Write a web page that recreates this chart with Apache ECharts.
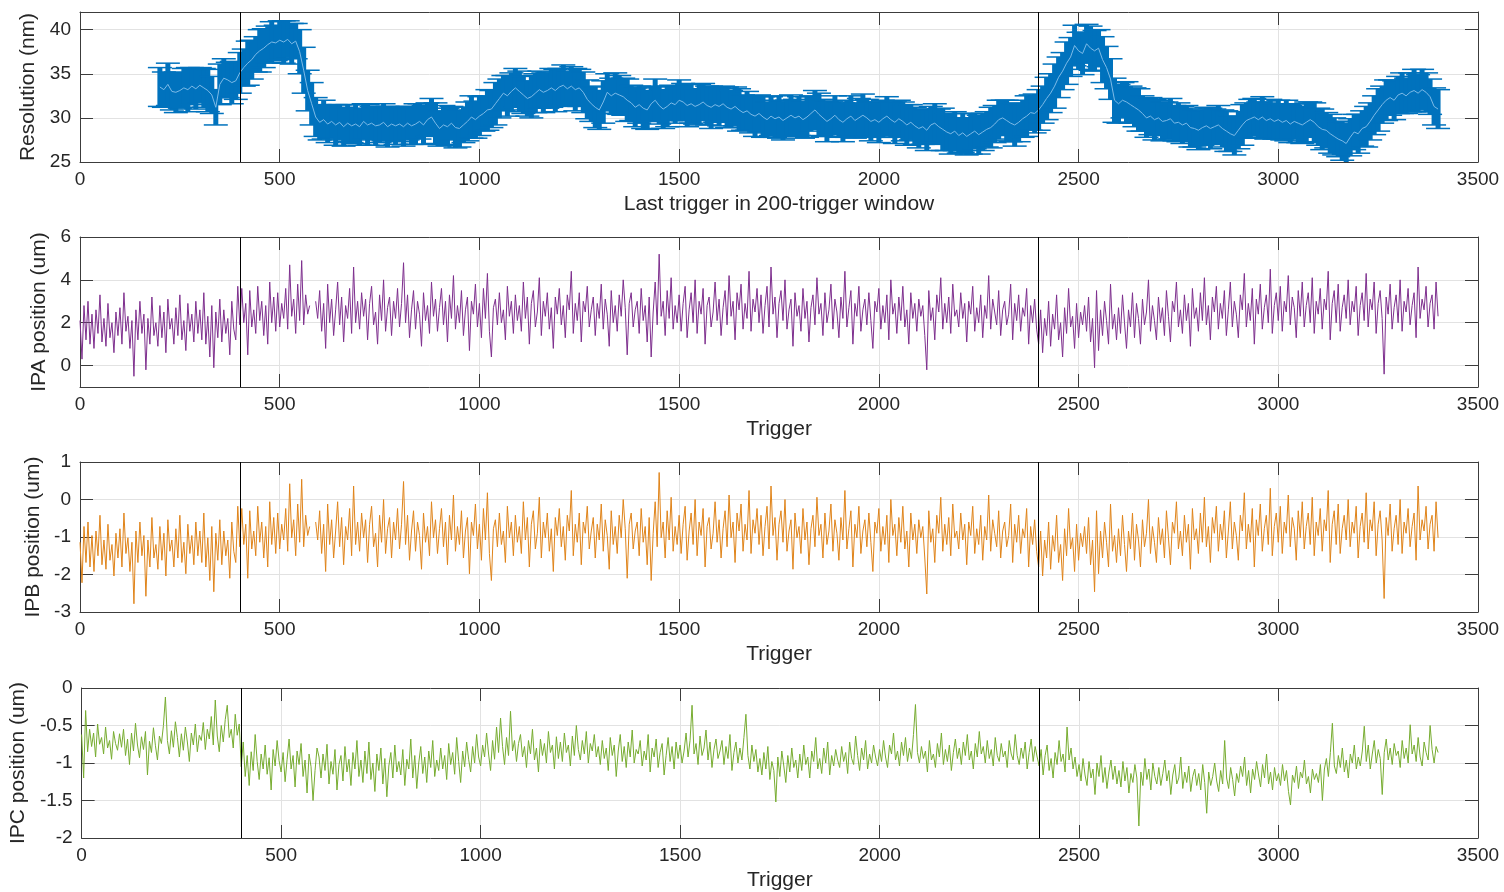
<!DOCTYPE html>
<html>
<head>
<meta charset="utf-8">
<script src="https://cdn.jsdelivr.net/npm/echarts@6/dist/echarts.min.js"></script>
<style>
  html, body { margin: 0; padding: 0; background: #ffffff; }
  #chart { width: 1504px; height: 892px; }
</style>
</head>
<body>
<div id="chart"></div>
<script>
// ---- Resolution per 200-trigger window (one value every 10 triggers, from trigger 200) ----
const resFirstTrigger = 200;
const resTriggerStep = 10;
const resolutionNm = [
  33.5,33.2,33.8,33.0,32.9,33.1,33.4,33.2,33.6,33.3,
  33.7,33.4,33.1,32.6,31.2,33.8,34.5,34.3,34.0,34.2,
  35.1,35.7,36.2,36.6,37.2,37.6,37.9,38.3,38.6,38.5,
  38.8,38.6,38.9,38.4,38.7,37.5,35.4,33.1,31.6,30.1,
  29.5,29.8,29.3,29.6,29.2,29.5,29.0,29.4,29.1,29.3,
  29.0,29.6,29.2,29.4,29.1,29.2,29.5,29.0,29.3,29.1,
  29.3,29.0,29.4,29.1,29.3,29.6,29.2,29.8,30.1,29.4,
  28.8,29.2,29.0,29.4,28.9,28.8,29.2,29.6,30.1,29.8,
  30.2,30.5,30.9,31.0,31.6,32.2,32.8,32.5,33.0,33.4,
  33.0,32.6,32.2,32.4,32.8,33.2,32.9,33.1,33.4,33.1,
  33.5,33.7,33.3,33.6,33.2,33.4,32.9,32.1,31.6,31.2,
  30.9,31.8,32.9,32.5,32.8,32.6,32.4,32.0,31.7,31.2,
  31.5,31.1,30.9,31.6,32.0,31.4,31.0,31.3,31.7,31.5,
  32.0,31.8,31.4,31.6,31.3,31.5,31.8,31.4,31.2,31.5,
  31.3,31.6,31.2,31.0,31.3,30.9,30.6,30.8,30.4,30.2,
  30.5,30.1,29.8,30.2,29.9,30.1,29.7,30.0,30.3,30.0,
  30.2,29.8,30.1,30.5,30.9,30.4,30.0,29.6,29.9,30.3,
  29.8,29.5,29.9,30.2,29.7,30.0,30.3,30.0,29.6,29.8,
  29.5,29.9,30.2,29.8,29.5,29.9,29.6,29.2,29.5,29.1,
  28.8,29.0,28.6,29.2,29.4,29.0,28.7,28.4,28.2,28.5,
  28.0,28.3,27.9,28.2,28.5,28.1,28.4,28.7,28.9,29.3,
  29.8,30.0,29.7,29.4,29.2,29.5,29.9,30.2,30.6,30.5,
  30.9,31.5,32.2,32.8,33.6,34.6,35.3,36.2,36.9,38.2,
  37.6,37.3,38.4,37.9,37.6,37.9,36.6,35.7,34.4,32.0,
  31.6,32.0,31.8,31.5,31.2,30.9,30.5,30.0,30.2,29.8,
  30.0,29.6,29.7,29.9,29.4,29.5,29.2,29.4,28.9,28.8,
  28.6,28.9,29.1,28.8,29.0,29.2,28.8,28.5,28.2,28.0,
  28.6,29.2,29.7,29.9,30.1,29.8,30.1,29.7,29.9,29.6,
  29.8,29.5,29.7,29.3,29.6,29.4,29.2,29.5,29.8,29.5,
  29.0,28.7,28.6,28.2,27.9,27.6,27.4,27.1,27.8,28.4,
  28.2,28.8,29.0,29.6,30.3,30.9,31.5,32.0,32.3,32.0,
  32.6,32.8,32.5,32.9,33.1,32.8,33.2,32.9,32.4,31.3,
  31.0
];
// error bar half-height for each resolution value (nm)
const resolutionErrNm = [
  2.2,2.0,2.4,2.1,2.3,2.0,2.2,2.5,2.1,2.3,
  2.0,2.2,2.4,2.1,2.0,2.3,2.2,2.0,2.4,2.1,
  2.3,2.1,2.5,2.2,2.0,2.4,2.2,2.1,2.3,2.0,
  2.2,2.4,2.1,2.3,2.0,2.5,2.6,2.3,2.4,2.2,
  2.0,2.2,2.1,1.9,2.3,2.0,2.2,2.1,1.9,2.2,
  2.1,2.0,2.3,1.9,2.2,2.0,2.1,2.3,1.9,2.1,
  2.0,2.2,1.9,2.1,2.3,2.0,2.2,1.9,2.1,2.3,
  2.0,2.2,2.1,1.9,2.3,2.1,2.0,2.2,2.4,2.1,
  2.2,2.0,2.3,2.1,2.4,2.2,2.0,2.3,2.1,2.2,
  2.3,2.1,2.0,2.4,2.2,2.1,2.3,2.0,2.2,2.4,
  2.1,2.3,2.0,2.2,2.4,2.1,2.3,2.2,2.0,2.3,
  2.2,2.4,2.1,2.0,2.3,2.2,2.1,2.4,2.0,2.2,
  2.1,2.3,2.2,2.0,2.4,2.1,2.2,2.3,2.0,2.1,
  2.3,2.1,2.4,2.2,2.0,2.3,2.1,2.2,2.4,2.0,
  2.2,2.0,2.3,2.1,2.2,2.4,2.0,2.2,2.1,2.3,
  2.1,2.3,2.0,2.2,2.1,2.4,2.2,2.0,2.3,2.1,
  2.2,2.1,2.3,2.0,2.2,2.4,2.1,2.3,2.0,2.2,
  2.0,2.2,2.1,2.3,2.0,2.2,2.4,2.1,2.2,2.0,
  2.3,2.1,2.2,2.0,2.4,2.1,2.2,2.3,2.0,2.1,
  2.2,2.0,2.3,2.1,2.2,2.0,2.4,2.1,2.3,2.2,
  2.0,2.2,2.1,2.3,2.0,2.2,2.1,2.0,2.3,2.1,
  2.2,2.0,2.3,2.1,2.4,2.2,2.1,2.3,2.0,2.2,
  2.3,2.1,2.4,2.2,2.5,2.3,2.1,2.4,2.2,2.3,
  2.1,2.4,2.2,2.5,2.3,2.1,2.6,2.4,2.3,2.5,
  2.2,2.0,2.3,2.1,2.2,2.4,2.0,2.2,2.1,2.3,
  2.0,2.2,2.1,2.3,2.0,2.2,2.1,2.0,2.2,2.1,
  2.2,2.0,2.1,2.3,2.0,2.2,2.1,2.3,2.0,2.2,
  2.1,2.3,2.0,2.2,2.1,2.0,2.3,2.1,2.2,2.0,
  2.2,2.0,2.3,2.1,2.0,2.2,2.1,2.3,2.0,2.2,
  2.1,2.3,2.0,2.2,2.1,2.0,2.2,2.3,2.1,2.0,
  2.2,2.0,2.3,2.1,2.2,2.4,2.1,2.3,2.0,2.2,
  2.1,2.3,2.0,2.2,2.4,2.1,2.3,2.2,2.0,2.1,
  2.2
];

// ---- IP positions (um), one value every 5 triggers from trigger 0; null = missing ----
const ipTriggerStep = 5;
const ipaPosition = [
  2.1,0.3,2.8,1.2,3.0,1.0,2.4,0.8,2.6,1.5,3.3,1.1,2.2,0.9,2.9,1.3,2.0,0.6,2.5,1.4,
  2.7,1.0,3.4,1.6,2.3,0.8,2.1,-0.5,2.6,1.2,3.0,1.5,2.4,-0.2,2.2,1.0,3.2,1.4,2.0,0.9,
  2.8,1.3,2.5,0.6,3.1,1.7,2.2,1.0,2.7,1.4,3.3,1.2,2.1,0.7,2.9,1.6,2.4,1.1,3.0,1.5,
  2.6,1.2,3.4,1.0,2.3,0.4,2.8,-0.1,2.5,1.3,3.1,1.1,2.6,1.5,2.2,0.5,3.0,1.7,1.2,3.7,
  1.9,3.6,2.0,2.9,0.5,3.5,1.8,2.6,1.5,3.7,2.1,3.0,1.4,2.8,1.0,3.9,2.0,3.2,1.6,3.4,
  1.8,2.9,2.2,3.6,1.7,4.7,2.3,3.1,1.5,3.8,2.1,4.9,1.9,3.3,2.4,2.8,null,null,3.0,2.2,
  3.5,1.6,2.9,0.8,3.8,2.0,3.1,1.4,2.6,3.9,1.9,3.2,1.1,2.8,2.2,3.6,1.5,4.6,2.0,3.0,
  1.7,3.4,2.3,3.1,1.2,2.9,3.7,1.9,2.5,1.0,3.3,2.1,4.0,1.6,2.7,3.2,1.4,3.0,2.2,3.6,
  1.8,2.9,4.8,2.0,3.3,1.3,2.6,3.5,1.7,3.0,2.4,0.9,3.4,2.1,2.8,1.5,3.9,2.3,3.1,1.6,
  2.7,3.6,1.9,3.0,1.1,3.3,2.2,4.2,1.7,2.8,2.0,3.5,1.4,2.6,3.2,0.7,3.0,2.4,3.8,1.8,
  2.9,1.3,3.6,2.2,4.3,1.6,0.4,2.7,3.1,1.9,3.4,2.0,2.6,1.2,3.7,2.3,3.0,1.5,3.3,2.1,
  2.8,1.6,3.9,2.2,3.2,1.0,2.9,3.5,1.8,2.5,4.1,1.4,3.0,2.3,3.4,1.7,2.7,0.8,3.2,2.4,
  3.6,1.9,2.8,1.3,3.3,2.6,4.4,1.5,2.9,2.1,3.4,1.1,3.0,2.5,3.7,1.8,2.6,3.2,1.4,2.9,
  2.2,3.8,1.7,3.1,2.4,0.9,3.5,2.0,2.8,1.6,3.3,2.3,4.0,2.7,0.5,2.9,3.4,1.8,2.6,3.0,
  1.5,3.6,2.1,2.8,1.1,3.2,0.4,2.5,3.9,1.9,5.2,2.3,3.0,1.4,3.5,2.2,4.1,1.7,2.8,2.0,
  3.3,1.6,2.9,3.7,1.3,2.6,3.4,2.0,4.0,1.5,3.0,2.4,3.6,1.0,2.8,3.2,1.8,2.5,3.9,2.1,
  3.1,1.4,2.7,3.5,1.9,4.2,2.3,3.0,1.2,3.4,2.6,3.8,1.7,2.9,2.2,4.4,1.6,3.1,2.5,3.6,
  2.0,3.3,1.5,2.8,3.7,1.8,4.6,2.4,3.2,1.3,2.9,3.5,2.1,4.0,1.7,2.6,3.1,0.9,3.4,2.3,
  2.8,1.6,3.6,2.2,3.0,1.1,2.7,3.3,1.9,4.1,2.4,2.9,1.4,3.4,2.0,2.6,3.8,1.7,3.1,2.5,
  1.3,3.2,2.2,4.4,1.8,2.7,3.5,1.0,2.9,2.3,3.7,1.6,2.6,3.1,1.9,3.4,2.1,0.8,3.0,2.5,
  3.6,1.7,2.8,2.0,3.3,1.2,4.0,2.4,2.9,1.5,3.2,2.1,3.7,1.8,2.6,1.0,3.4,2.2,2.9,1.6,
  3.1,2.3,2.8,1.4,-0.2,3.5,2.1,2.7,1.2,3.3,2.5,4.1,1.7,2.9,2.0,3.2,1.5,3.8,2.3,2.6,
  1.8,3.4,2.2,2.9,1.1,3.0,2.4,3.7,1.6,2.7,2.0,3.3,1.3,2.8,2.2,4.2,1.7,3.1,2.5,1.9,
  3.5,1.4,2.6,3.0,1.9,2.4,3.8,1.2,2.9,2.1,3.3,1.6,2.7,2.3,3.6,1.0,2.8,2.0,3.1,1.7,
  1.0,2.6,0.6,2.2,1.4,3.0,0.9,2.4,1.7,3.3,1.2,2.0,0.4,2.7,1.5,3.6,1.8,2.3,0.8,2.9,
  1.3,2.5,1.9,2.8,1.6,3.2,1.1,2.2,-0.1,3.5,0.7,2.6,1.4,3.0,2.1,1.0,3.8,1.7,2.4,1.2,
  2.7,1.5,3.3,2.0,0.8,2.6,1.8,3.4,1.3,2.9,2.2,1.0,3.1,1.9,2.5,4.0,1.6,2.8,2.1,1.2,
  3.2,2.0,2.7,1.4,3.5,2.3,1.1,3.0,2.5,3.9,1.8,2.6,1.5,3.3,2.1,2.9,0.9,3.6,2.2,2.7,
  1.6,3.4,2.1,4.1,1.9,2.8,1.2,3.2,2.5,3.7,1.7,2.9,2.2,3.5,1.4,2.6,3.9,1.8,3.0,2.4,
  1.3,3.3,2.6,4.3,1.8,2.9,2.1,3.6,1.0,3.1,2.4,3.8,1.7,2.7,3.3,2.0,4.5,1.5,2.8,3.4,
  2.1,3.7,1.6,3.0,2.5,4.2,1.9,3.2,2.7,1.3,3.5,2.3,3.9,1.8,2.8,3.4,2.0,4.1,1.5,3.0,
  2.4,3.6,1.7,3.1,2.6,4.4,1.2,2.9,3.5,2.0,3.8,1.6,2.7,3.3,2.2,4.0,1.9,3.0,2.5,3.7,
  1.4,2.8,3.4,2.1,4.3,1.8,3.1,2.6,3.9,1.5,2.9,3.5,2.2,-0.4,3.2,2.4,3.8,1.7,2.7,3.3,
  2.0,4.0,1.6,3.0,2.5,3.6,1.9,2.8,3.4,1.3,4.6,2.2,3.1,2.6,3.7,1.8,2.9,3.3,1.7,3.9,
  2.3
];
const ipbPosition = [
  -1.14,-2.22,-0.72,-1.68,-0.60,-1.80,-0.96,-1.92,-0.84,-1.50,-0.42,-1.74,-1.08,-1.86,-0.66,-1.62,-1.20,-2.04,-0.90,-1.56,
  -0.78,-1.80,-0.36,-1.44,-1.02,-1.92,-1.14,-2.78,-0.84,-1.68,-0.60,-1.50,-0.96,-2.58,-1.08,-1.80,-0.48,-1.56,-1.20,-1.86,
  -0.72,-1.62,-0.90,-2.04,-0.54,-1.38,-1.08,-1.80,-0.78,-1.56,-0.42,-1.68,-1.14,-1.98,-0.66,-1.44,-0.96,-1.74,-0.60,-1.50,
  -0.84,-1.68,-0.36,-1.80,-1.02,-2.16,-0.72,-2.46,-0.90,-1.62,-0.54,-1.74,-0.84,-1.50,-1.08,-2.10,-0.60,-1.38,-1.68,-0.18,
  -1.26,-0.24,-1.20,-0.66,-2.10,-0.30,-1.32,-0.84,-1.50,-0.18,-1.14,-0.60,-1.56,-0.72,-1.80,-0.06,-1.20,-0.48,-1.44,-0.36,
  -1.32,-0.66,-1.08,-0.24,-1.38,0.42,-1.02,-0.54,-1.50,-0.12,-1.14,0.54,-1.26,-0.42,-0.96,-0.72,null,null,-0.60,-1.08,
  -0.30,-1.44,-0.66,-1.92,-0.12,-1.20,-0.54,-1.56,-0.84,-0.06,-1.26,-0.48,-1.74,-0.72,-1.08,-0.24,-1.50,0.36,-1.20,-0.60,
  -1.38,-0.36,-1.02,-0.54,-1.68,-0.66,-0.18,-1.26,-0.90,-1.80,-0.42,-1.14,0.00,-1.44,-0.78,-0.48,-1.56,-0.60,-1.08,-0.24,
  -1.32,-0.66,0.48,-1.20,-0.42,-1.62,-0.84,-0.30,-1.38,-0.60,-0.96,-1.86,-0.36,-1.14,-0.72,-1.50,-0.06,-1.02,-0.54,-1.44,
  -0.78,-0.24,-1.26,-0.60,-1.74,-0.42,-1.08,0.12,-1.38,-0.72,-1.20,-0.30,-1.56,-0.84,-0.48,-1.98,-0.60,-0.96,-0.12,-1.32,
  -0.66,-1.62,-0.24,-1.08,0.18,-1.44,-2.16,-0.78,-0.54,-1.26,-0.36,-1.20,-0.84,-1.68,-0.18,-1.02,-0.60,-1.50,-0.42,-1.14,
  -0.72,-1.44,-0.06,-1.08,-0.48,-1.80,-0.66,-0.30,-1.32,-0.90,0.06,-1.56,-0.60,-1.02,-0.36,-1.38,-0.78,-1.92,-0.48,-0.96,
  -0.24,-1.26,-0.72,-1.62,-0.42,-0.84,0.24,-1.50,-0.66,-1.14,-0.36,-1.74,-0.60,-0.90,-0.18,-1.32,-0.84,-0.48,-1.56,-0.66,
  -1.08,-0.12,-1.38,-0.54,-0.96,-1.86,-0.30,-1.20,-0.72,-1.44,-0.42,-1.02,0.00,-0.78,-2.10,-0.66,-0.36,-1.32,-0.84,-0.60,
  -1.50,-0.24,-1.14,-0.72,-1.74,-0.48,-2.16,-0.90,-0.06,-1.26,0.72,-1.02,-0.60,-1.56,-0.30,-1.08,0.06,-1.38,-0.72,-1.20,
  -0.42,-1.44,-0.66,-0.18,-1.62,-0.84,-0.36,-1.20,0.00,-1.50,-0.60,-0.96,-0.24,-1.80,-0.72,-0.48,-1.32,-0.90,-0.06,-1.14,
  -0.54,-1.56,-0.78,-0.30,-1.26,0.12,-1.02,-0.60,-1.68,-0.36,-0.84,-0.12,-1.38,-0.66,-1.08,0.24,-1.44,-0.54,-0.90,-0.24,
  -1.20,-0.42,-1.50,-0.72,-0.18,-1.32,0.36,-0.96,-0.48,-1.62,-0.66,-0.30,-1.14,0.00,-1.38,-0.84,-0.54,-1.86,-0.36,-1.02,
  -0.72,-1.44,-0.24,-1.08,-0.60,-1.74,-0.78,-0.42,-1.26,0.06,-0.96,-0.66,-1.56,-0.36,-1.20,-0.84,-0.12,-1.38,-0.54,-0.90,
  -1.62,-0.48,-1.08,0.24,-1.32,-0.78,-0.30,-1.80,-0.66,-1.02,-0.18,-1.44,-0.84,-0.54,-1.26,-0.36,-1.14,-1.92,-0.60,-0.90,
  -0.24,-1.38,-0.72,-1.20,-0.42,-1.68,0.00,-0.96,-0.66,-1.50,-0.48,-1.14,-0.18,-1.32,-0.84,-1.80,-0.36,-1.08,-0.66,-1.44,
  -0.54,-1.02,-0.72,-1.56,-2.52,-0.30,-1.14,-0.78,-1.68,-0.42,-0.90,0.06,-1.38,-0.66,-1.20,-0.48,-1.50,-0.12,-1.02,-0.84,
  -1.32,-0.36,-1.08,-0.66,-1.74,-0.60,-0.96,-0.18,-1.44,-0.78,-1.20,-0.42,-1.62,-0.72,-1.08,0.12,-1.38,-0.54,-0.90,-1.26,
  -0.30,-1.56,-0.84,-0.60,-1.26,-0.96,-0.12,-1.68,-0.66,-1.14,-0.42,-1.44,-0.78,-1.02,-0.24,-1.80,-0.72,-1.20,-0.54,-1.38,
  -1.80,-0.84,-2.04,-1.08,-1.56,-0.60,-1.86,-0.96,-1.38,-0.42,-1.68,-1.20,-2.16,-0.78,-1.50,-0.24,-1.32,-1.02,-1.92,-0.66,
  -1.62,-0.90,-1.26,-0.72,-1.44,-0.48,-1.74,-1.08,-2.46,-0.30,-1.98,-0.84,-1.56,-0.60,-1.14,-1.80,-0.12,-1.38,-0.96,-1.68,
  -0.78,-1.50,-0.42,-1.20,-1.92,-0.84,-1.32,-0.36,-1.62,-0.66,-1.08,-1.80,-0.54,-1.26,-0.90,0.00,-1.44,-0.72,-1.14,-1.68,
  -0.48,-1.20,-0.78,-1.56,-0.30,-1.02,-1.74,-0.60,-0.90,-0.06,-1.32,-0.84,-1.50,-0.42,-1.14,-0.66,-1.86,-0.24,-1.08,-0.78,
  -1.44,-0.36,-1.14,0.06,-1.26,-0.72,-1.68,-0.48,-0.90,-0.18,-1.38,-0.66,-1.08,-0.30,-1.56,-0.84,-0.06,-1.32,-0.60,-0.96,
  -1.62,-0.42,-0.84,0.18,-1.32,-0.66,-1.14,-0.24,-1.80,-0.54,-0.96,-0.12,-1.38,-0.78,-0.42,-1.20,0.30,-1.50,-0.72,-0.36,
  -1.14,-0.18,-1.44,-0.60,-0.90,0.12,-1.26,-0.48,-0.78,-1.62,-0.30,-1.02,-0.06,-1.32,-0.72,-0.36,-1.20,0.06,-1.50,-0.60,
  -0.96,-0.24,-1.38,-0.54,-0.84,0.24,-1.68,-0.66,-0.30,-1.20,-0.12,-1.44,-0.78,-0.42,-1.08,0.00,-1.26,-0.60,-0.90,-0.18,
  -1.56,-0.72,-0.36,-1.14,0.18,-1.32,-0.54,-0.84,-0.06,-1.50,-0.66,-0.30,-1.08,-2.64,-0.48,-0.96,-0.12,-1.38,-0.78,-0.42,
  -1.20,0.00,-1.44,-0.60,-0.90,-0.24,-1.26,-0.72,-0.36,-1.62,0.36,-1.08,-0.54,-0.84,-0.18,-1.32,-0.66,-0.42,-1.38,-0.06,
  -1.02
];
const ipcPosition = [
  -0.62,-1.20,-0.30,-0.85,-0.55,-0.78,-0.60,-0.92,-0.48,-0.75,-0.66,-0.88,-0.52,-0.80,-0.70,-0.95,-0.58,-0.74,-0.83,-0.61,
  -0.79,-0.55,-0.90,-0.68,-1.02,-0.60,-0.84,-0.47,-0.76,-0.93,-0.65,-0.82,-0.58,-1.16,-0.71,-0.86,-0.53,-0.77,-0.96,-0.64,
  -0.74,-0.50,-0.12,-0.70,-0.88,-0.57,-0.79,-0.45,-0.66,-0.92,-0.61,-0.83,-0.52,-0.72,-0.98,-0.60,-0.76,-0.48,-0.85,-0.63,
  -0.70,-0.46,-0.82,-0.55,-0.68,-0.38,-0.76,-0.16,-0.64,-0.85,-0.50,-0.72,-0.42,-0.23,-0.66,-0.55,-0.80,-0.35,-0.63,-0.48,
  -1.05,-0.72,-1.18,-0.90,-1.30,-0.85,-1.10,-0.62,-0.98,-1.22,-0.88,-1.08,-0.76,-1.15,-0.93,-1.36,-0.82,-1.04,-0.70,-0.97,
  -1.12,-0.86,-1.25,-0.95,-0.68,-1.08,-0.90,-1.32,-0.84,-1.02,-0.74,-1.18,-0.96,-1.40,-0.88,-1.05,-1.50,-1.10,-0.80,-0.92,
  -1.20,-0.88,-1.10,-0.75,-1.28,-0.98,-1.15,-0.82,-1.36,-1.02,-0.90,-1.24,-0.78,-1.12,-0.95,-1.30,-0.86,-1.08,-0.70,-1.18,
  -0.96,-1.26,-0.84,-1.14,-0.72,-1.22,-1.00,-1.38,-0.88,-1.10,-0.80,-1.28,-0.94,-1.45,-1.04,-0.86,-1.20,-0.76,-1.12,-0.98,
  -1.16,-0.82,-1.30,-0.95,-1.08,-0.68,-1.20,-0.90,-1.34,-1.00,-0.78,-1.14,-0.92,-1.26,-0.84,-1.06,-0.70,-1.18,-0.96,-1.10,
  -0.80,-1.08,-0.90,-1.22,-0.74,-1.02,-0.86,-1.15,-0.66,-0.98,-1.26,-0.84,-1.05,-0.72,-0.95,-1.12,-0.78,-1.00,-0.62,-0.92,
  -1.04,-0.76,-0.92,-0.60,-0.88,-1.10,-0.70,-0.95,-0.52,-0.86,-0.40,-0.78,-1.02,-0.66,-0.90,-0.31,-0.84,-0.70,-0.98,-0.74,
  -0.62,-0.92,-0.78,-1.06,-0.70,-0.88,-0.55,-0.96,-0.80,-1.12,-0.68,-0.90,-0.74,-1.00,-0.58,-0.86,-0.76,-1.08,-0.65,-0.94,
  -0.72,-0.98,-0.60,-0.86,-0.76,-1.04,-0.64,-0.90,-0.50,-0.82,-0.96,-0.70,-0.88,-0.58,-1.00,-0.74,-0.84,-0.62,-0.92,-0.78,
  -1.02,-0.70,-0.94,-0.80,-1.10,-0.66,-0.90,-0.76,-1.18,-0.84,-0.62,-0.98,-0.78,-1.06,-0.72,-0.92,-0.56,-1.00,-0.82,-0.88,
  -0.70,-1.04,-0.84,-0.96,-0.62,-1.12,-0.80,-0.92,-0.68,-1.06,-0.86,-0.74,-1.16,-0.90,-0.66,-0.98,-0.78,-1.08,-0.72,-0.94,
  -0.76,-1.00,-0.84,-0.60,-0.92,-0.70,-0.23,-0.88,-0.74,-1.02,-0.64,-0.90,-0.80,-0.56,-0.96,-0.72,-1.06,-0.82,-0.68,-0.94,
  -0.84,-0.70,-1.02,-0.78,-0.94,-0.62,-1.10,-0.86,-0.72,-1.00,-0.80,-0.96,-0.66,-0.35,-0.90,-1.08,-0.76,-0.98,-0.82,-1.12,
  -0.94,-1.16,-0.86,-1.08,-0.78,-1.22,-0.98,-1.10,-1.52,-0.92,-1.18,-0.84,-1.04,-1.26,-0.90,-1.12,-0.80,-1.06,-0.96,-1.20,
  -0.88,-1.10,-0.76,-1.02,-0.92,-1.20,-0.84,-0.98,-0.66,-1.08,-0.94,-1.14,-0.80,-1.00,-0.72,-1.16,-0.90,-1.04,-0.82,-0.96,
  -1.06,-0.78,-0.98,-0.86,-1.14,-0.72,-0.94,-1.02,-0.64,-0.90,-1.10,-0.80,-0.96,-0.70,-1.08,-0.88,-1.00,-0.76,-0.92,-1.04,
  -0.82,-0.98,-0.70,-0.92,-1.06,-0.76,-0.88,-0.60,-0.96,-0.84,-1.04,-0.72,-0.90,-0.66,-0.98,-0.80,-0.94,-0.62,-0.22,-0.86,
  -1.00,-0.78,-0.94,-0.84,-1.12,-0.70,-0.96,-0.88,-1.06,-0.74,-0.92,-0.60,-1.02,-0.82,-0.98,-0.76,-1.10,-0.86,-0.68,-0.94,
  -0.80,-1.02,-0.72,-0.90,-0.62,-0.96,-0.84,-1.08,-0.74,-0.92,-0.58,-0.88,-0.78,-1.00,-0.70,-0.94,-0.82,-1.04,-0.66,-0.90,
  -0.98,-0.74,-0.92,-0.84,-1.06,-0.70,-0.88,-0.96,-0.62,-0.90,-1.02,-0.80,-0.94,-0.72,-1.08,-0.86,-0.68,-0.98,-0.78,-0.92,
  -1.04,-0.82,-1.16,-0.90,-0.76,-1.10,-0.94,-1.20,-0.86,-1.02,-0.70,-0.98,-0.88,-1.12,-0.52,-0.96,-0.80,-1.08,-0.92,-1.18,
  -1.02,-1.24,-0.94,-1.16,-1.30,-0.98,-1.20,-1.08,-1.42,-1.00,-1.18,-0.90,-1.26,-1.06,-1.34,-1.12,-0.96,-1.22,-1.04,-1.28,
  -1.10,-1.32,-0.98,-1.24,-1.06,-1.40,-1.14,-1.26,-1.02,-1.20,-1.84,-1.12,-1.30,-0.94,-1.22,-1.08,-1.36,-1.00,-1.18,-1.28,
  -1.06,-1.30,-1.14,-0.96,-1.24,-1.10,-1.42,-1.16,-1.02,-1.28,-1.20,-0.92,-1.34,-1.12,-1.26,-1.04,-1.38,-1.18,-1.08,-1.30,
  -1.14,-1.36,-1.02,-1.26,-1.67,-1.12,-1.30,-1.18,-1.00,-1.24,-1.38,-1.10,-1.28,-0.70,-1.20,-1.34,-1.06,-1.22,-1.44,-1.14,
  -1.26,-1.04,-1.18,-0.92,-1.30,-1.10,-1.40,-1.08,-1.22,-0.98,-1.16,-1.32,-1.02,-1.20,-0.88,-1.28,-1.12,-1.36,-1.06,-1.24,
  -1.14,-1.30,-1.02,-1.24,-1.10,-1.38,-1.56,-1.16,-1.26,-1.04,-1.34,-1.12,-1.20,-0.96,-1.28,-1.18,-1.40,-1.08,-1.22,-1.14,
  -1.26,-1.02,-1.50,-1.08,-0.94,-1.18,-0.86,-0.47,-1.04,-1.14,-0.90,-1.06,-0.80,-1.12,-0.96,-1.20,-0.88,-1.00,-0.76,-1.08,
  -0.92,-1.04,-0.84,-0.51,-0.98,-0.76,-1.08,-0.88,-0.70,-1.00,-0.82,-0.94,-1.42,-0.86,-0.68,-0.96,-0.80,-1.02,-0.74,-0.90,
  -0.84,-1.06,-0.70,-0.94,-0.80,-1.00,-0.49,-0.88,-0.76,-0.98,-0.66,-0.92,-1.04,-0.72,-0.86,-0.96,-0.50,-0.82,-1.00,-0.78,
  -0.86
];

// ---- axes ----
const triggerMin = 0, triggerMax = 3500, triggerInterval = 500;
const resTicks = [25, 30, 35, 40];
const ipaTicks = [0, 2, 4, 6];
const ipbTicks = [-3, -2, -1, 0, 1];
const ipcTicks = [-2, -1.5, -1, -0.5, 0];
// window boundaries marked in every panel
const markerTriggers = [400, 2400];

const FONT = '"Liberation Sans", Arial, Helvetica, sans-serif';
const TEXT = '#262626';
const AXIS = '#3c3c3c';
const GRIDLINE = '#e2e2e2';
const BLUE = '#0072BD';
const BLUE_LIGHT = '#7dbbe8';

const panels = [
  { top: 12,  yMin: 25, yMax: 42, ticks: resTicks, yName: 'Resolution (nm)',   yGap: 33, xName: 'Last trigger in 200-trigger window' },
  { top: 237, yMin: -1, yMax: 6,  ticks: ipaTicks, yName: 'IPA position (um)', yGap: 21, xName: 'Trigger' },
  { top: 462, yMin: -3, yMax: 1,  ticks: ipbTicks, yName: 'IPB position (um)', yGap: 28, xName: 'Trigger' },
  { top: 688, yMin: -2, yMax: 0,  ticks: ipcTicks, yName: 'IPC position (um)', yGap: 42, xName: 'Trigger' }
];

const plainNumber = v => String(v);

const grids = [], xAxes = [], yAxes = [];
panels.forEach((p, i) => {
  grids.push({ left: 80, right: 26, top: p.top, height: 150, containLabel: false });
  // bottom axis with labels and title
  xAxes.push({
    type: 'value', gridIndex: i, position: 'bottom',
    min: triggerMin, max: triggerMax, interval: triggerInterval,
    axisLine: { show: true, onZero: false, lineStyle: { color: AXIS, width: 1 } },
    axisTick: { show: true, inside: true, length: 13, lineStyle: { color: AXIS, width: 1 } },
    axisLabel: { show: true, margin: 8, fontSize: 19, color: TEXT, fontFamily: FONT, formatter: plainNumber },
    splitLine: { show: true, lineStyle: { color: GRIDLINE, width: 1 } },
    name: p.xName, nameLocation: 'middle', nameGap: 32,
    nameTextStyle: { fontSize: 21, color: TEXT, fontFamily: FONT }
  });
  // top border with ticks
  xAxes.push({
    type: 'value', gridIndex: i, position: 'top',
    min: triggerMin, max: triggerMax, interval: triggerInterval,
    axisLine: { show: true, onZero: false, lineStyle: { color: AXIS, width: 1 } },
    axisTick: { show: true, inside: true, length: 13, lineStyle: { color: AXIS, width: 1 } },
    axisLabel: { show: false }, splitLine: { show: false }
  });
  // left axis with labels and title
  yAxes.push({
    type: 'value', gridIndex: i, position: 'left',
    min: p.yMin, max: p.yMax,
    axisLine: { show: true, onZero: false, lineStyle: { color: AXIS, width: 1 } },
    axisTick: { show: true, inside: true, length: 13, customValues: p.ticks, lineStyle: { color: AXIS, width: 1 } },
    axisLabel: { show: true, customValues: p.ticks, margin: 9, fontSize: 19, color: TEXT, fontFamily: FONT, formatter: plainNumber },
    splitLine: { show: true, lineStyle: { color: GRIDLINE, width: 1 } },
    name: p.yName, nameLocation: 'middle', nameGap: p.yGap, nameRotate: 90,
    nameTextStyle: { fontSize: 21, color: TEXT, fontFamily: FONT }
  });
  // right border with ticks
  yAxes.push({
    type: 'value', gridIndex: i, position: 'right',
    min: p.yMin, max: p.yMax,
    axisLine: { show: true, onZero: false, lineStyle: { color: AXIS, width: 1 } },
    axisTick: { show: true, inside: true, length: 13, customValues: p.ticks, lineStyle: { color: AXIS, width: 1 } },
    axisLabel: { show: false }, splitLine: { show: false }
  });
});

const markerLines = {
  silent: true, symbol: ['none', 'none'], animation: false,
  label: { show: false },
  lineStyle: { color: '#000000', width: 1, type: 'solid' },
  emphasis: { disabled: true },
  data: markerTriggers.map(t => ({ xAxis: t }))
};

const resData = resolutionNm.map((v, i) => [resFirstTrigger + i * resTriggerStep, v, resolutionErrNm[i]]);
const ipSeriesData = vals => vals.map((v, i) => [i * ipTriggerStep, v === null ? '-' : v]);

// vertical error bar with wide caps for each resolution window
function renderErrorBar(params, api) {
  const t = api.value(0), v = api.value(1), e = api.value(2);
  const hi = api.coord([t, v + e]);
  const lo = api.coord([t, v - e]);
  const w = api.size([resTriggerStep, 0])[0];
  const cap = 12;
  return {
    type: 'group',
    children: [
      { type: 'rect', shape: { x: hi[0] - w / 2 - 0.5, y: hi[1], width: w + 1, height: lo[1] - hi[1] }, style: { fill: BLUE } },
      { type: 'line', shape: { x1: hi[0] - cap, y1: hi[1], x2: hi[0] + cap, y2: hi[1] }, style: { stroke: BLUE, lineWidth: 1.5 } },
      { type: 'line', shape: { x1: lo[0] - cap, y1: lo[1], x2: lo[0] + cap, y2: lo[1] }, style: { stroke: BLUE, lineWidth: 1.5 } }
    ]
  };
}

const lineSeries = (idx, data, color) => ({
  type: 'line', xAxisIndex: idx * 2, yAxisIndex: idx * 2,
  data: ipSeriesData(data), showSymbol: false, symbol: 'none',
  connectNulls: false, silent: true,
  lineStyle: { color: color, width: 1 }, itemStyle: { color: color },
  markLine: markerLines, z: 2
});

const option = {
  animation: false,
  backgroundColor: '#ffffff',
  textStyle: { fontFamily: FONT },
  grid: grids,
  xAxis: xAxes,
  yAxis: yAxes,
  series: [
    {
      type: 'custom', xAxisIndex: 0, yAxisIndex: 0,
      data: resData, renderItem: renderErrorBar,
      encode: { x: 0, y: 1 }, silent: true, clip: true, z: 2
    },
    {
      type: 'line', xAxisIndex: 0, yAxisIndex: 0,
      data: resData.map(d => [d[0], d[1]]), showSymbol: false, symbol: 'none', silent: true,
      lineStyle: { color: BLUE_LIGHT, width: 1 }, itemStyle: { color: BLUE_LIGHT },
      markLine: markerLines, z: 3
    },
    lineSeries(1, ipaPosition, '#7E2F8E'),
    lineSeries(2, ipbPosition, '#E0841A'),
    lineSeries(3, ipcPosition, '#77AC30')
  ]
};

const chart = echarts.init(document.getElementById('chart'), null, { renderer: 'canvas' });
chart.setOption(option);
</script>
</body>
</html>
